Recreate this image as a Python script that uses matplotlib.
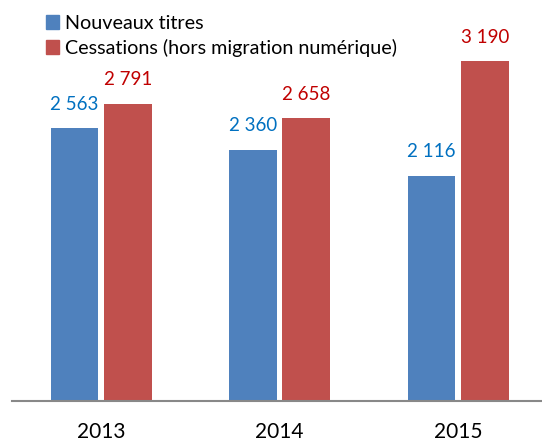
import numpy as np
import matplotlib
matplotlib.use("Agg")
import matplotlib.pyplot as plt
from matplotlib.patches import Patch

# Data
years = ["2013", "2014", "2015"]
nouveaux = [2563, 2360, 2116]
cessations = [2791, 2658, 3190]
labels = ["Nouveaux titres", "Cessations (hors migration numérique)"]

blue = "#4F81BD"
red = "#C0504D"
blue_txt = "#0070C0"
red_txt = "#C00000"

plt.rcParams['font.family'] = ['Lato', 'DejaVu Sans']

W, H = 542, 441
fig = plt.figure(figsize=(W / 100, H / 100), dpi=100)
ax = fig.add_axes([12 / W, 40 / H, (W - 12) / W, 401 / H])

x = np.arange(len(years))
bw = 0.267
off = 0.149
b1 = ax.bar(x - off, nouveaux, bw, color=blue)
b2 = ax.bar(x + off, cessations, bw, color=red)

for rects, vals, c in [(b1, nouveaux, blue_txt), (b2, cessations, red_txt)]:
    for r, v in zip(rects, vals):
        s = f"{v:,}".replace(",", " ")
        ax.annotate(s, (r.get_x() + r.get_width() / 2, v), xytext=(0, 11),
                    textcoords="offset points", ha="center", va="bottom",
                    color=c, fontsize=13.5)

ax.set_xlim(-0.5, 2.47)
ax.set_ylim(0, 3765)
ax.set_xticks(x)
ax.set_xticklabels(years, fontsize=15)
ax.tick_params(axis="x", length=0, pad=15)
ax.set_yticks([])
for sp in ["top", "right", "left"]:
    ax.spines[sp].set_visible(False)
ax.spines["bottom"].set_color("#888888")
ax.spines["bottom"].set_linewidth(1.5)

handles = [Patch(color=blue), Patch(color=red)]
fig.legend(handles, labels, loc="upper left", bbox_to_anchor=(38 / W, 1 - 7 / H),
           frameon=False, fontsize=14.2, handlelength=0.65, handleheight=0.65,
           handletextpad=0.3, labelspacing=0.35, borderaxespad=0)

fig.savefig("out.png", dpi=100)
